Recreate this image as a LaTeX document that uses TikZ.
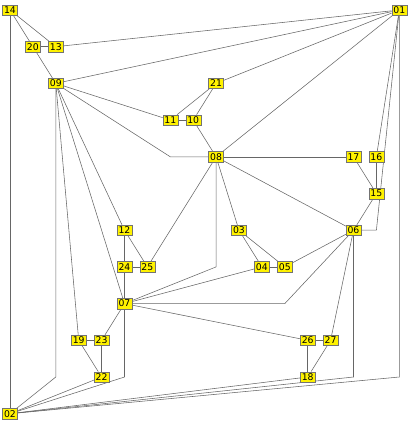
\documentclass[tikz,border=0pt]{standalone}
\usepackage{fontspec}
\newfontfamily\boxfont{DejaVu Sans}
\usetikzlibrary{backgrounds}

\begin{document}
\begin{tikzpicture}[
    x=22.9pt, y=-36.7pt,
    vertex/.style={draw=black!55, fill=yellow, minimum width=15pt, minimum height=10.5pt, inner sep=0pt, font=\boxfont\fontsize{9.3}{10}\selectfont},
    link/.style={draw=black!60, line width=0.55pt},
]
\useasboundingbox (-10pt,10pt) rectangle (399pt,-414pt);

% vertices on a grid (column, row)
\node[vertex] (n14) at (0,0) {14};
\node[vertex] (n01) at (17,0) {01};
\node[vertex] (n20) at (1,1) {20};
\node[vertex] (n13) at (2,1) {13};
\node[vertex] (n09) at (2,2) {09};
\node[vertex] (n21) at (9,2) {21};
\node[vertex] (n11) at (7,3) {11};
\node[vertex] (n10) at (8,3) {10};
\node[vertex] (n08) at (9,4) {08};
\node[vertex] (n17) at (15,4) {17};
\node[vertex] (n16) at (16,4) {16};
\node[vertex] (n15) at (16,5) {15};
\node[vertex] (n12) at (5,6) {12};
\node[vertex] (n03) at (10,6) {03};
\node[vertex] (n06) at (15,6) {06};
\node[vertex] (n24) at (5,7) {24};
\node[vertex] (n25) at (6,7) {25};
\node[vertex] (n04) at (11,7) {04};
\node[vertex] (n05) at (12,7) {05};
\node[vertex] (n07) at (5,8) {07};
\node[vertex] (n19) at (3,9) {19};
\node[vertex] (n23) at (4,9) {23};
\node[vertex] (n26) at (13,9) {26};
\node[vertex] (n27) at (14,9) {27};
\node[vertex] (n22) at (4,10) {22};
\node[vertex] (n18) at (13,10) {18};
\node[vertex] (n02) at (0,11) {02};

% bend points
\coordinate (k0908) at (7,4);
\coordinate (k0807) at (9,7);
\coordinate (k0607) at (12,8);
\coordinate (k0601) at (16,6);
\coordinate (k0209) at (2,10);
\coordinate (k0207) at (5,10);
\coordinate (k0206) at (15,10);
\coordinate (k0201) at (17,10);

\begin{scope}[on background layer]
\foreach \a/\b in {14/20,14/13,14/02,20/13,20/09,13/01,09/01,09/11,09/12,09/07,09/19,
    21/11,21/10,21/01,11/10,10/08,08/17,08/01,08/03,08/06,08/25,17/15,16/15,16/01,15/06,
    12/24,12/25,24/25,24/07,03/04,03/05,04/05,04/07,05/06,06/27,07/23,07/26,
    26/27,26/18,27/18,19/23,19/22,23/22,22/02,18/02}
  \draw[link] (n\a) -- (n\b);
\draw[link] (n09) -- (k0908) -- (n08);
\draw[link] (n08) -- (k0807) -- (n07);
\draw[link] (n06) -- (k0607) -- (n07);
\draw[link] (n06) -- (k0601) -- (n01);
\draw[link] (n02) -- (k0209) -- (n09);
\draw[link] (n02) -- (k0207) -- (n07);
\draw[link] (n02) -- (k0206) -- (n06);
\draw[link] (n02) -- (k0201) -- (n01);
\end{scope}
\end{tikzpicture}
\end{document}
